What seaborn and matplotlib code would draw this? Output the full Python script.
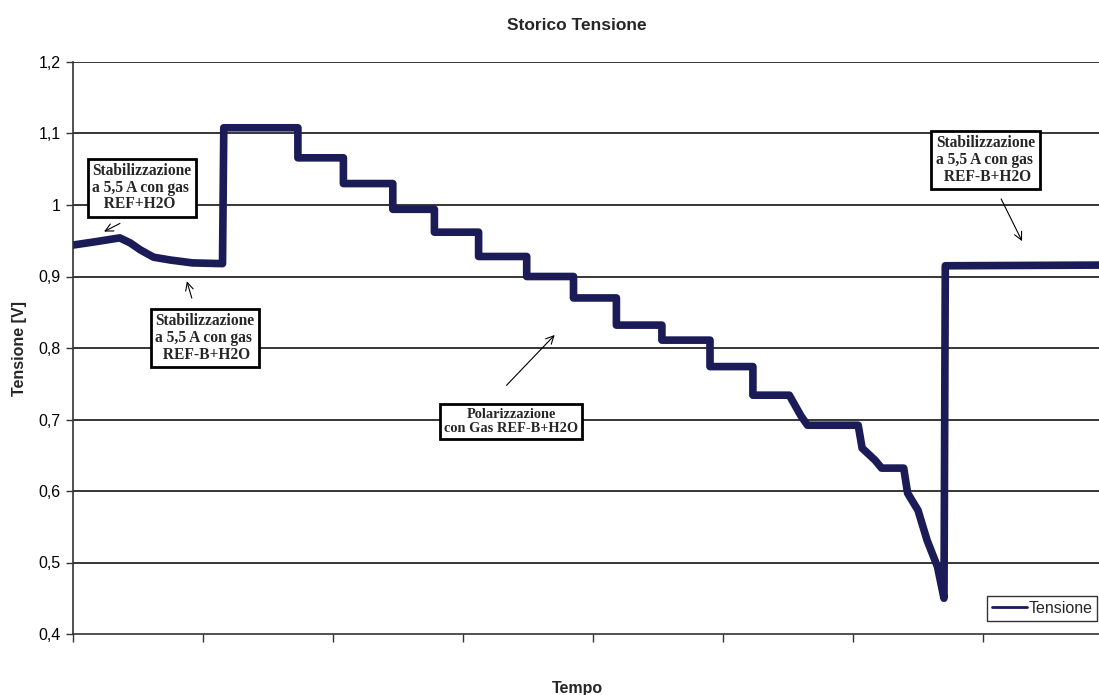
import numpy as np
import pandas as pd
import matplotlib.pyplot as plt
import seaborn as sns

# time in tick units (one tick mark = 1), voltage in V
tempo = [0.00, 0.15, 0.36, 0.44, 0.52, 0.62, 0.75, 0.92, 1.15,
         1.16, 1.73, 1.73, 2.08, 2.08, 2.46, 2.46, 2.78, 2.78, 3.12,
         3.12, 3.49, 3.49, 3.85, 3.85, 4.18, 4.18, 4.53, 4.53, 4.90,
         4.90, 5.23, 5.23, 5.51, 5.60, 5.65, 6.04, 6.07, 6.17, 6.22,
         6.39, 6.42, 6.50, 6.57, 6.65, 6.70, 6.71, 7.95]
tensione = [0.944, 0.948, 0.954, 0.947, 0.937, 0.927, 0.923, 0.919, 0.918,
            1.108, 1.108, 1.066, 1.066, 1.030, 1.030, 0.994, 0.994, 0.962, 0.962,
            0.928, 0.928, 0.900, 0.900, 0.870, 0.870, 0.832, 0.832, 0.811, 0.811,
            0.774, 0.774, 0.734, 0.734, 0.705, 0.692, 0.692, 0.660, 0.643, 0.632,
            0.632, 0.597, 0.573, 0.531, 0.494, 0.450, 0.915, 0.916]

y_ticks = [0.4, 0.5, 0.6, 0.7, 0.8, 0.9, 1.0, 1.1, 1.2]
y_labels = ['0,4', '0,5', '0,6', '0,7', '0,8', '0,9', '1', '1,1', '1,2']

# annotation text, box centre, arrow tail, arrow head
note_text = ['Stabilizzazione\na 5,5 A con gas\n   REF+H2O',
             'Stabilizzazione\na 5,5 A con gas\n  REF-B+H2O',
             'Polarizzazione\ncon Gas REF-B+H2O',
             'Stabilizzazione\na 5,5 A con gas\n  REF-B+H2O']
note_box = [(0.53, 1.024), (1.015, 0.814), (3.37, 0.697), (7.02, 1.063)]
note_tail = [(0.38, 0.976), (0.92, 0.866), (3.32, 0.745), (7.13, 1.012)]
note_head = [(0.22, 0.961), (0.87, 0.897), (3.72, 0.821), (7.31, 0.946)]

df = pd.DataFrame({'Tempo': tempo, 'Tensione': tensione})

sns.set_style("white")
plt.rcParams['font.family'] = ['Liberation Sans', 'DejaVu Sans']

fig = plt.figure(figsize=(10.99, 6.95), dpi=100)
ax = fig.add_axes([73 / 1099, 61 / 695, 1 - 73 / 1099, 572 / 695])

sns.lineplot(data=df, x='Tempo', y='Tensione', sort=False, estimator=None,
             color='#1b1b57', linewidth=5.5, label='Tensione', ax=ax)

ax.set_xlim(0, 1026 / 130)
ax.set_ylim(0.4, 1.2)
ax.set_yticks(y_ticks)
ax.set_yticklabels(y_labels, fontsize=11.5, color='black')
ax.set_xticks(range(0, 8))
ax.set_xticklabels([])
ax.tick_params(axis='y', direction='out', length=5, width=1, color='#333333', left=True, pad=4)
ax.tick_params(axis='x', direction='out', length=6, width=1, color='#333333', bottom=True)
for y in y_ticks[1:]:
    ax.axhline(y, color='black', linewidth=1.1, zorder=0)
for s in ['top', 'right']:
    ax.spines[s].set_visible(False)
for s in ['left', 'bottom']:
    ax.spines[s].set_color('#333333')
    ax.spines[s].set_linewidth(1.2)

ax.set_xlabel('')
ax.set_ylabel('Tensione [V]', fontsize=11.5, fontweight='bold', labelpad=8)
fig.text(577 / 1099, 1 - 688 / 695, 'Tempo', ha='center', va='center',
         fontsize=11.5, fontweight='bold')
fig.text(577 / 1099, 1 - 25 / 695, 'Storico Tensione', ha='center', va='center',
         fontsize=12.5, fontweight='bold')

for i, (txt, box, tail, head) in enumerate(zip(note_text, note_box, note_tail, note_head)):
    polar = (i == 2)
    ax.text(box[0], box[1], txt, ha='center', va='center',
            multialignment='center' if polar else 'left',
            family='Liberation Serif', fontweight='bold',
            fontsize=10.4 if polar else 11.2, linespacing=1.1 if polar else 1.05,
            zorder=5,
            bbox=dict(boxstyle='square,pad=0.3', facecolor='white', edgecolor='black', linewidth=2))
    ax.annotate('', xy=head, xytext=tail,
                arrowprops=dict(arrowstyle='->', color='black', linewidth=0.8, mutation_scale=14))

leg = ax.legend(loc='center left', bbox_to_anchor=(0.891, 0.045), frameon=True,
                fancybox=False, edgecolor='black', fontsize=11.5, handlelength=2.2,
                handletextpad=0.1, borderpad=0.3, borderaxespad=0)
leg.get_frame().set_linewidth(1)
for line in leg.get_lines():
    line.set_linewidth(2)

plt.savefig('out.png', dpi=100)
